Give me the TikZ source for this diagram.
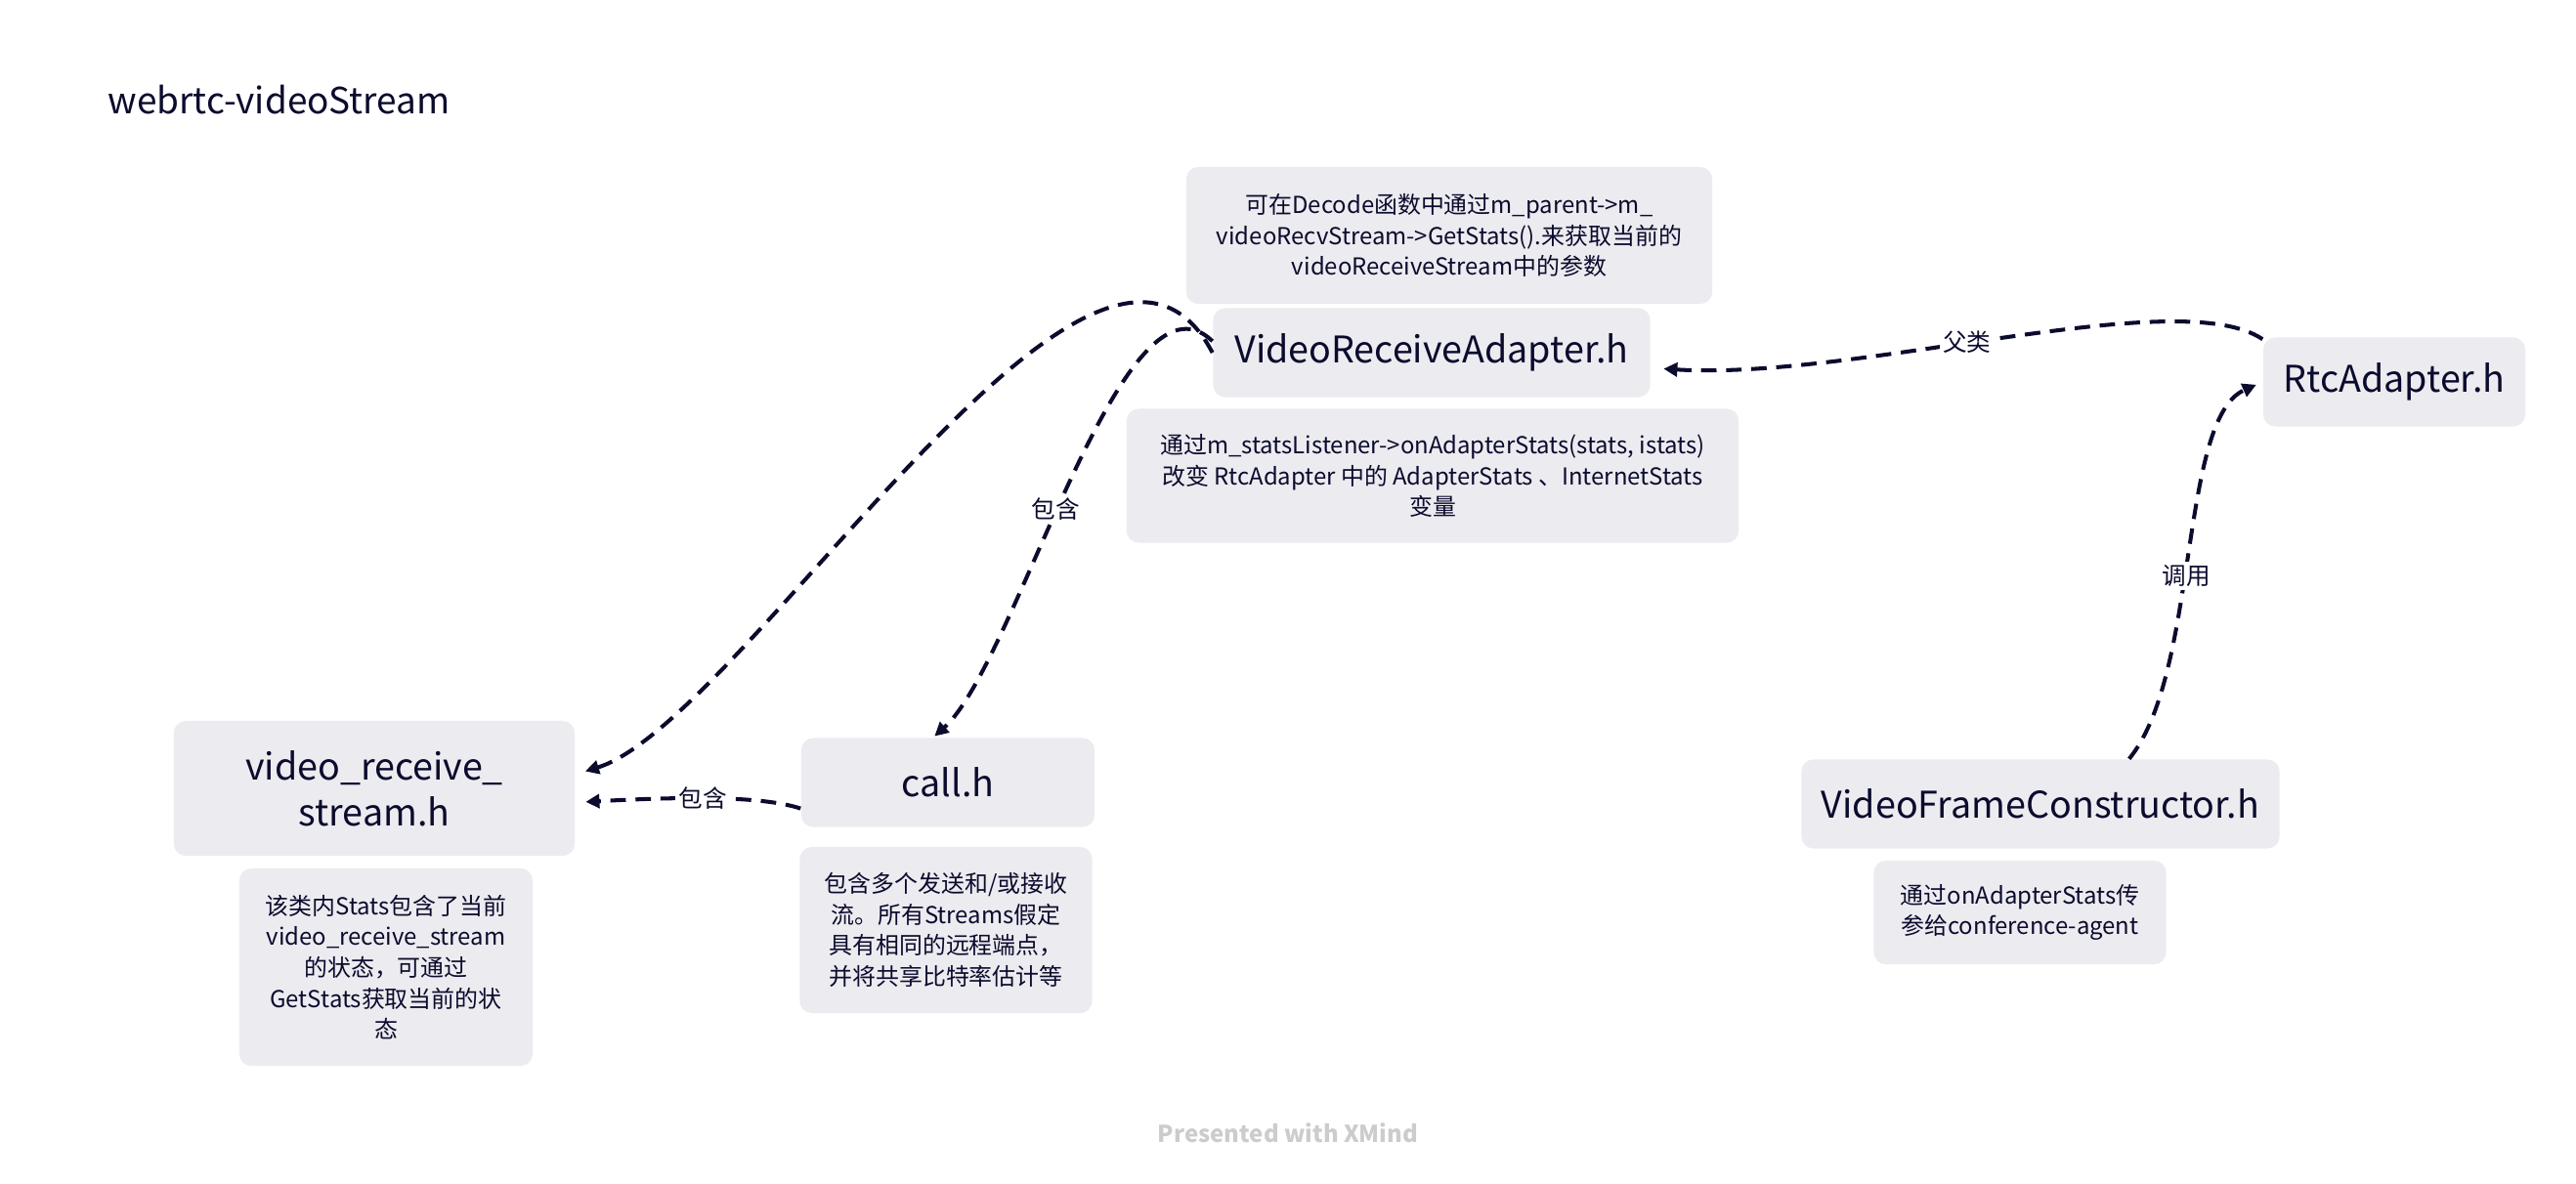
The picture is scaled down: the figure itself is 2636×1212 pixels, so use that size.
\documentclass[tikz,border=0pt]{standalone}
\usepackage{fontspec}
\setmainfont{Noto Sans CJK SC}
\usetikzlibrary{arrows.meta}
\usepackage{xcolor}
\definecolor{ink}{HTML}{0B0B2E}
\definecolor{boxgray}{HTML}{ECEBEF}
\definecolor{footgray}{HTML}{CCCCCC}

\begin{document}
\begin{tikzpicture}[x=0.01cm, y=-0.01cm,
  topicbox/.style={fill=boxgray, rounded corners=3.5pt, text=ink, align=center, inner sep=0pt, font=\fontsize{10.7}{13.4}\selectfont},
  notebox/.style={fill=boxgray, rounded corners=3.5pt, text=ink, align=center, inner sep=0pt, font=\fontsize{6.8}{9}\selectfont},
  relline/.style={draw=ink, line width=1.15pt, dash pattern=on 4.5pt off 2.8pt, -{Triangle[length=4pt,width=4pt]}},
  rellabel/.style={fill=white, text=ink, inner sep=1pt, font=\fontsize{7}{8}\selectfont}]
  %% canvas (pixel units, y runs downwards)
  \fill[white] (0,0) rectangle (2636,1212);
  \useasboundingbox (0,0) rectangle (2636,1212);

  %% title
  \node[anchor=base west, inner sep=0pt, text=ink, font=\fontsize{10.5}{12}\selectfont] (title) at (110,116) {webrtc-videoStream};

  %% topics
  \node[topicbox, minimum width=4.47cm, minimum height=0.91cm] (vra) at (1465,361) {VideoReceiveAdapter.h};
  \node[topicbox, minimum width=2.68cm, minimum height=0.91cm] (rtc) at (2450,391) {RtcAdapter.h};
  \node[topicbox, minimum width=4.10cm, minimum height=1.38cm] (vrs) at (383,807) {video\_receive\_\\stream.h};
  \node[topicbox, minimum width=3.00cm, minimum height=0.91cm] (call) at (970,801) {call.h};
  \node[topicbox, minimum width=4.89cm, minimum height=0.91cm] (vfc) at (2088,823) {VideoFrameConstructor.h};

  %% notes
  \node[notebox, minimum width=5.38cm, minimum height=1.40cm] (vranote) at (1483,241)
    {可在Decode函数中通过m\_parent->m\_\\videoRecvStream->GetStats().来获取当前的\\videoReceiveStream中的参数};
  \node[notebox, minimum width=6.26cm, minimum height=1.37cm] (statsnote) at (1466,487)
    {通过m\_statsListener->onAdapterStats(stats, istats)\\改变 RtcAdapter 中的 AdapterStats 、InternetStats\\变量};
  \node[notebox, minimum width=3.00cm, minimum height=2.02cm] (vrsnote) at (395,990)
    {该类内Stats包含了当前\\video\_receive\_stream\\的状态，可通过\\GetStats获取当前的状\\态};
  \node[notebox, minimum width=2.99cm, minimum height=1.70cm] (callnote) at (968,952)
    {包含多个发送和/或接收\\流。所有Streams假定\\具有相同的远程端点，\\并将共享比特率估计等};
  \node[notebox, minimum width=2.99cm, minimum height=1.06cm] (vfcnote) at (2067,934)
    {通过onAdapterStats传\\参给conference-agent};

  %% relationships
  \draw[relline, shorten >=3pt] (vra.west) .. controls +(-120,-230) and +(172,-53) .. (vrs.4);
  \draw[relline, shorten >=0.5pt] (vra.177) .. controls +(-92,-90) and +(85,-76) .. (call.108)
    node[rellabel, pos=0.55] (lbla) {包含};
  \draw[relline, shorten >=3pt] (call.190) .. controls +(-40,-13) and +(112,-6) .. (vrs.-4)
    node[rellabel, pos=0.55] (lblb) {包含};
  \draw[relline, shorten >=3.7pt] (rtc.162) .. controls +(-86,-58) and +(211,13) .. (vra.-4)
    node[rellabel, pos=0.55] (lblc) {父类};
  \draw[relline, shorten >=2pt] (vfc.27) .. controls +(72,-88) and +(-86,38) .. (rtc.west)
    node[rellabel, pos=0.45] (lbld) {调用};

  %% footer
  \node[text=footgray, font=\bfseries\fontsize{6.8}{9}\selectfont] (footer) at (1318,1160) {Presented with XMind};
\end{tikzpicture}
\end{document}
